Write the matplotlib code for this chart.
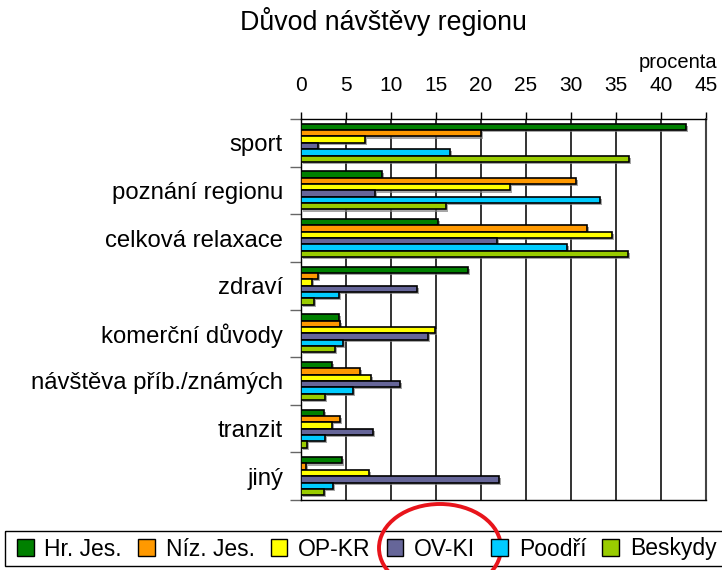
import numpy as np
import matplotlib.pyplot as plt
import matplotlib.patheffects as pe
from matplotlib.patches import Ellipse, Patch, Rectangle

plt.rcParams['font.family'] = ['Liberation Sans', 'DejaVu Sans']

# data (percent)
categories = ["sport", "poznání regionu", "celková relaxace", "zdraví",
              "komerční důvody", "návštěva příb./známých", "tranzit", "jiný"]
regions = ["Hr. Jes.", "Níz. Jes.", "OP-KR", "OV-KI", "Poodří", "Beskydy"]
colors = ["#008000", "#FF9900", "#FFFF00", "#666699", "#00CCFF", "#99CC00"]

hr_jes = [42.8, 9.0, 15.2, 18.6, 4.2, 3.4, 2.6, 4.5]
niz_jes = [20.0, 30.6, 31.8, 1.9, 4.3, 6.6, 4.3, 0.6]
op_kr = [7.1, 23.2, 34.6, 1.2, 14.9, 7.8, 3.4, 7.6]
ov_ki = [1.9, 8.2, 21.8, 12.9, 14.1, 11.0, 8.0, 22.0]
poodri = [16.5, 33.2, 29.5, 4.2, 4.7, 5.8, 2.7, 3.6]
beskydy = [36.4, 16.1, 36.3, 1.4, 3.8, 2.7, 0.7, 2.6]
series = [hr_jes, niz_jes, op_kr, ov_ki, poodri, beskydy]

fig = plt.figure(figsize=(7.22, 5.70), dpi=100)
ax = fig.add_axes([301 / 722, 1 - 500 / 570, 405 / 722, 381 / 570])

y = np.arange(len(categories))
h = 0.8 / len(series)
shadow = [pe.SimplePatchShadow(offset=(1.5, -1.5), shadow_rgbFace='gray', alpha=0.7), pe.Normal()]
for j, (vals, col) in enumerate(zip(series, colors)):
    bars = ax.barh(y - 0.4 + (j + 0.5) * h, vals, height=h, color=col,
                   edgecolor='black', linewidth=1.2, zorder=3)
    for b in bars:
        b.set_path_effects(shadow)

ax.set_xlim(0, 45)
ax.set_ylim(len(categories) - 0.5, -0.5)
ax.set_xticks(np.arange(0, 46, 5))
ax.xaxis.tick_top()
ax.tick_params(axis='x', length=5, width=1, pad=12, labelsize=15)
ax.set_yticks(y)
ax.set_yticklabels(categories)
ax.set_yticks(np.arange(-0.5, len(categories), 1), minor=True)
ax.tick_params(axis='y', which='major', length=0, pad=13, labelsize=17.2)
ax.tick_params(axis='y', which='minor', length=8, width=1, color='#666666')
ax.grid(axis='x', color='#111111', linewidth=1.2, zorder=0)
ax.set_axisbelow(True)
ax.spines['right'].set_color('#444444')
ax.spines['right'].set_linewidth(1.5)
for s in ['left', 'top', 'bottom']:
    ax.spines[s].set_color('black')
    ax.spines[s].set_linewidth(1)

fig.text(383 / 722, 1 - 22 / 570, "Důvod návštěvy regionu", ha='center', va='center', fontsize=19.3)
fig.text(717 / 722, 1 - 62 / 570, "procenta", ha='right', va='center', fontsize=14.5)

handles = [Patch(facecolor=c, edgecolor='black', linewidth=1) for c in colors]
leg = fig.legend(handles, regions, loc='center left', bbox_to_anchor=(17 / 722, 1 - 549 / 570),
                 ncol=6, fontsize=16.5, frameon=False,
                 handlelength=0.72, handleheight=0.72, handletextpad=0.48,
                 columnspacing=0.7, borderpad=0, borderaxespad=0)

# overlay in pixel coords: legend box and red highlight ellipse around OV-KI
over = fig.add_axes([0, 0, 1, 1], facecolor='none')
over.set_xlim(0, 722)
over.set_ylim(570, 0)
over.axis('off')
over.add_patch(Rectangle((5, 531), 740, 35, fill=False, edgecolor='black', linewidth=1))
over.add_patch(Ellipse((440, 548), 122, 88, fill=False, edgecolor='#E8141B', linewidth=2.8))

fig.savefig("out.png", dpi=100)
